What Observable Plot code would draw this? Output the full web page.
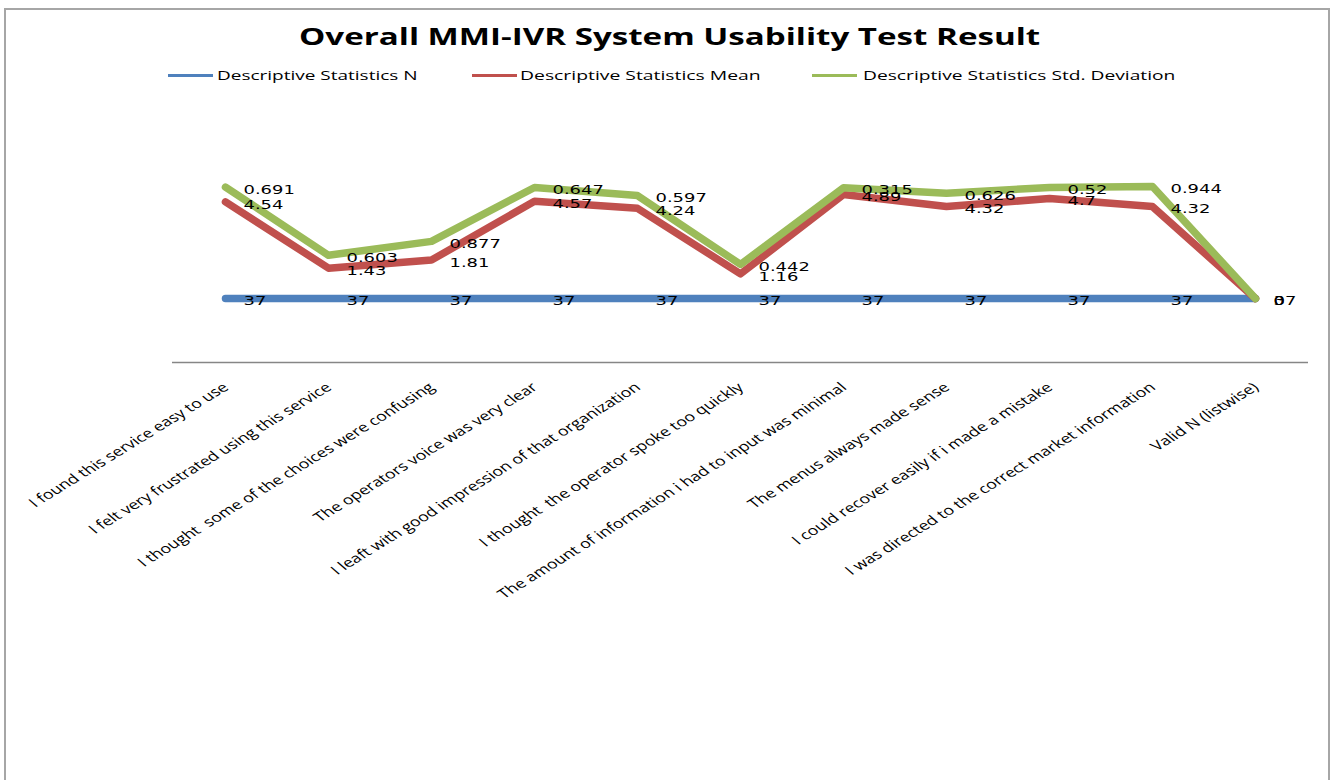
<!DOCTYPE html>
<html>
<head>
<meta charset="utf-8">
<script src="https://cdn.jsdelivr.net/npm/d3@7"></script>
<script src="https://cdn.jsdelivr.net/npm/@observablehq/plot@0.6"></script>
<style>
  html, body { margin: 0; padding: 0; background: #fff; }
  #chart { position: relative; width: 1333px; height: 780px; overflow: hidden; background: #fff; }
  #frame { position: absolute; left: 4px; top: 8px; width: 1326px; height: 820px; border: 2px solid #a6a6a6; box-sizing: border-box; }
  #plot { position: absolute; left: 0; top: 0; }
  .txt { position: absolute; white-space: pre; transform-origin: 0 50%; color: #000; z-index: 3; }
  #title { font-family: "Open Sans", sans-serif; font-weight: 700; font-size: 24px; line-height: 24px; top: 23.7px; }
  .leg { font-family: "Open Sans", sans-serif; font-size: 13px; line-height: 13px; top: 68.5px; }
  .legline { position: absolute; height: 3px; top: 74px; z-index: 3; }
</style>
</head>
<body>
<div id="chart">
  <div id="frame"></div>
  <div id="plot"></div>
</div>
<script>
// ---- data ----
const categories = [
  "I found this service easy to use",
  "I felt very frustrated using this service",
  "I thought  some of the choices were confusing",
  "The operators voice was very clear",
  "I leaft with good impression of that organization",
  "I thought  the operator spoke too quickly",
  "The amount of information i had to input was minimal",
  "The menus always made sense",
  "I could recover easily if i made a mistake",
  "I was directed to the correct market information",
  "Valid N (listwise)"
];
const nValues    = [37, 37, 37, 37, 37, 37, 37, 37, 37, 37, 37];
const meanValues = [4.54, 1.43, 1.81, 4.57, 4.24, 1.16, 4.89, 4.32, 4.7, 4.32, 0];
const stdValues  = [0.691, 0.603, 0.877, 0.647, 0.597, 0.442, 0.315, 0.626, 0.52, 0.944, 0];
const seriesNames  = ["Descriptive Statistics N", "Descriptive Statistics Mean", "Descriptive Statistics Std. Deviation"];
const seriesColors = ["#4F81BD", "#C0504D", "#9BBB59"];
const titleText = "Overall MMI-IVR System Usability Test Result";

// table for Plot
const rows = [];
[nValues, meanValues, stdValues].forEach((vals, s) =>
  vals.forEach((v, i) => rows.push({category: categories[i], series: seriesNames[s], value: v}))
);

const plot = Plot.plot({
  width: 1333,
  height: 780,
  marginLeft: 172,
  marginRight: 25,
  marginTop: 149,
  marginBottom: 418,
  x: {type: "point", domain: categories, padding: 0.5, axis: null},
  y: {domain: [34, 44], axis: null},
  color: {domain: seriesNames, range: seriesColors},
  style: {background: "transparent", overflow: "visible"},
  marks: [
    Plot.ruleY([34], {stroke: "#868686", strokeWidth: 1.3}),
    Plot.lineY(rows, Plot.stackY2({
      x: "category", y: "value", z: "series", stroke: "series",
      strokeWidth: 7.5, strokeLinecap: "round", strokeLinejoin: "round"
    })),
    Plot.text(rows, Plot.stackY2({
      x: "category", y: "value", z: "series",
      text: d => String(d.value),
      textAnchor: "start", lineAnchor: "middle", dx: 18, dy: 2.5,
      fontFamily: "DejaVu Sans", fontSize: 13, fill: "#000"
    })),
    Plot.text(categories, {
      x: d => d, frameAnchor: "bottom", dy: 23, dx: 0.5,
      text: d => d, rotate: -40, textAnchor: "end", lineAnchor: "middle",
      fontFamily: "Open Sans", fontSize: 13, fill: "#000"
    })
  ]
});
document.getElementById("plot").appendChild(plot);

// horizontal stretch of text glyphs (the reference is horizontally stretched)
function stretch(el, s) {
  const t = el.getAttribute("transform");
  if (!t || !/translate\(/.test(t)) return;
  if (/rotate\(/.test(t)) el.setAttribute("transform", t.replace(/rotate\(/, `scale(${s},1) rotate(`));
  else el.setAttribute("transform", t + ` scale(${s},1)`);
}
const catSet = new Set(categories);
plot.querySelectorAll("text").forEach(el => {
  if (catSet.has(el.textContent)) stretch(el, 1.37);
  else stretch(el, 1.38);
});

// title and legend (HTML, fitted to the reference widths)
const chart = document.getElementById("chart");
function addText(str, cls, left, targetWidth, id) {
  const span = document.createElement("span");
  span.className = "txt " + cls;
  if (id) span.id = id;
  span.textContent = str;
  span.style.left = left + "px";
  chart.appendChild(span);
  const w = span.offsetWidth;
  span.style.transform = `scaleX(${targetWidth / w})`;
  return span;
}
addText(titleText, "", 299, 741, "title");
const legendLayout = [
  {line: 168, text: 217, width: 200},
  {line: 472, text: 520, width: 241},
  {line: 812, text: 863, width: 313}
];
seriesNames.forEach((name, i) => {
  const ln = document.createElement("div");
  ln.className = "legline";
  ln.style.left = legendLayout[i].line + "px";
  ln.style.width = "45px";
  ln.style.background = seriesColors[i];
  chart.appendChild(ln);
  addText(name, "leg", legendLayout[i].text, legendLayout[i].width);
});
</script>
</body>
</html>
